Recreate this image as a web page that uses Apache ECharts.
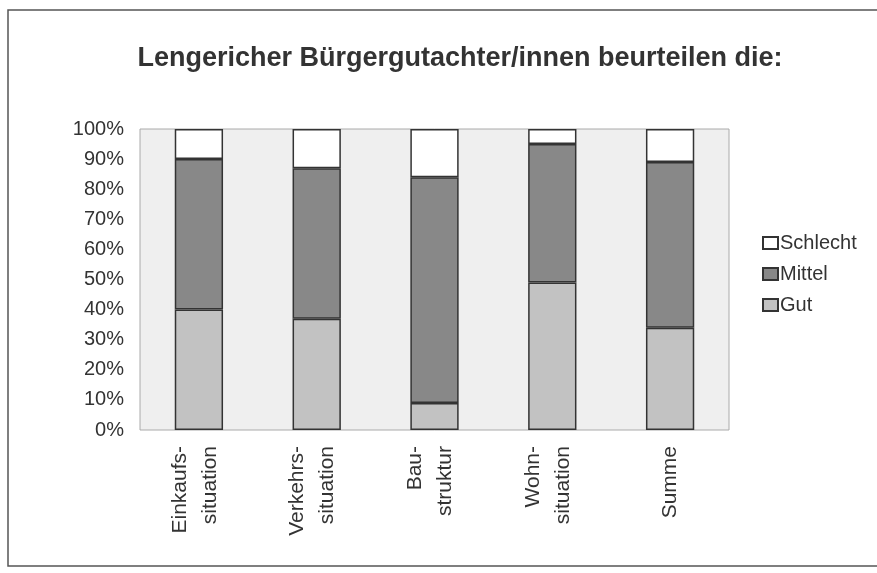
<!DOCTYPE html>
<html><head><meta charset="utf-8">
<script src="https://cdn.jsdelivr.net/npm/echarts@6/dist/echarts.min.js"></script>
<style>html,body{margin:0;padding:0;background:#fff}#c{width:877px;height:573px}</style>
</head><body><div id="c"></div>
<script>
const categories = ['Einkaufs-\nsituation', 'Verkehrs-\nsituation', 'Bau-\nstruktur', 'Wohn-\nsituation', 'Summe'];
const gut = [40, 37, 9, 49, 34];
const mittel = [50, 50, 75, 46, 55];
const schlecht = [10, 13, 16, 5, 11];
const yTicks = [0, 10, 20, 30, 40, 50, 60, 70, 80, 90, 100];

const chart = echarts.init(document.getElementById('c'));
const font = 'Liberation Sans, Arial, sans-serif';
const barStyle = (color) => ({ color: color, borderColor: '#333', borderWidth: 1.5 });
chart.setOption({
  backgroundColor: '#fff',
  animation: false,
  graphic: [{ type: 'rect', shape: { x: 8, y: 10, width: 880, height: 556 }, style: { fill: 'none', stroke: '#555', lineWidth: 1.5 } }],
  title: { text: 'Lengericher Bürgergutachter/innen beurteilen die:', left: 455, textAlign: 'center', top: 40,
    textStyle: { fontFamily: font, fontSize: 27, fontWeight: 'bold', color: '#333' } },
  legend: { orient: 'vertical', left: 757, top: 228, itemGap: 11, itemWidth: 15, itemHeight: 12, icon: 'rect',
    data: ['Schlecht', 'Mittel', 'Gut'],
    textStyle: { fontFamily: font, fontSize: 20, color: '#333', padding: [0,0,0,-3] } },
  grid: { left: 140, right: 148, top: 129, bottom: 143, show: true, backgroundColor: '#efefef', borderColor: '#aaa', borderWidth: 1 },
  xAxis: { type: 'category', data: categories,
    axisLine: { show: false }, axisTick: { show: false },
    axisLabel: { rotate: 90, fontFamily: font, fontSize: 21, color: '#333', lineHeight: 30, margin: 16,
      formatter: v => v.indexOf('\n') >= 0 ? v + '\n{s| }' : v,
      rich: { s: { fontSize: 4, lineHeight: 8 } } } },
  yAxis: { type: 'value', min: 0, max: 100, interval: 10,
    axisLine: { show: false }, axisTick: { show: false }, splitLine: { show: false },
    axisLabel: { formatter: v => yTicks.includes(v) ? v + '%' : '', fontFamily: font, fontSize: 20, color: '#333', margin: 16 } },
  series: [
    { name: 'Gut', type: 'bar', stack: 's', data: gut, barWidth: '41%', itemStyle: barStyle('#c2c2c2') },
    { name: 'Mittel', type: 'bar', stack: 's', data: mittel, itemStyle: barStyle('#888888') },
    { name: 'Schlecht', type: 'bar', stack: 's', data: schlecht, itemStyle: barStyle('#ffffff') }
  ]
});
</script></body></html>
